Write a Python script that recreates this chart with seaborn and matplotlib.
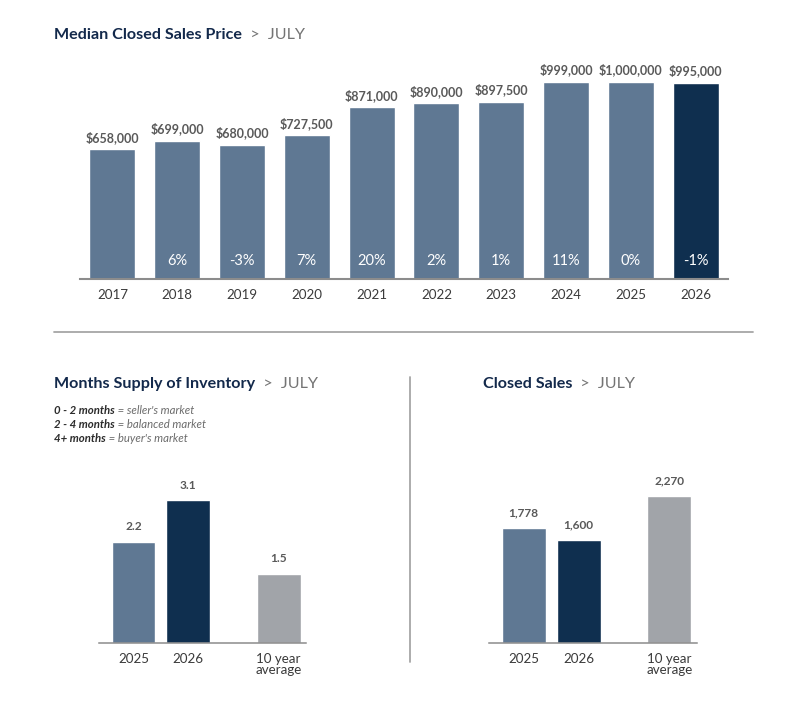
import matplotlib

matplotlib.use("Agg")
import matplotlib.pyplot as plt
import seaborn as sns

# --- data ---
years = ["2017", "2018", "2019", "2020", "2021", "2022", "2023", "2024", "2025", "2026"]
median_price = [658000, 699000, 680000, 727500, 871000, 890000, 897500, 999000, 1000000, 995000]
yoy_change = ["", "6%", "-3%", "7%", "20%", "2%", "1%", "11%", "0%", "-1%"]

compare_labels = ["2025", "2026", "10 year\naverage"]
months_supply = [2.2, 3.1, 1.5]
closed_sales = [1778, 1600, 2270]

SLATE = "#5f7893"
NAVY = "#0f2f4f"
GREY = "#a1a4a9"
TITLE_C = "#13294b"
VALUE_C = "#595959"
TICK_C = "#3a3a3a"
LINE_C = "#a6a6a6"

sns.set_theme(style="white")
plt.rcParams["font.family"] = ["Lato", "DejaVu Sans"]

fig = plt.figure(figsize=(8.05, 7.17), dpi=100)
W, H = 805, 717


def px_axes(x0, x1, y_base, y_top):
    return fig.add_axes([x0 / W, 1 - y_base / H, (x1 - x0) / W, (y_base - y_top) / H])


def title(x, y, main, sub="JULY"):
    t = fig.text(x / W, 1 - y / H, main, fontsize=11.6, fontweight="bold",
                 color=TITLE_C, va="center")
    plt.annotate("  >  " + sub, xy=(1, 0.5), xycoords=t, va="center",
                 fontsize=11.6, color="#747474", annotation_clip=False)


def style_axis(ax, lw):
    sns.despine(ax=ax, left=True, top=True, right=True)
    ax.spines["bottom"].set_color("#8c8c8c")
    ax.spines["bottom"].set_linewidth(lw)
    ax.set_yticks([])
    ax.set_ylabel("")
    ax.set_xlabel("")
    ax.tick_params(axis="x", length=0, pad=7, labelsize=9.6, labelcolor=TICK_C)
    ax.patch.set_alpha(0)


# --- top: median closed sales price ---
ax_top = px_axes(80, 728, 279, 62)
sns.barplot(x=years, y=median_price, hue=years, dodge=False, legend=False,
            palette=[SLATE] * 9 + [NAVY], width=0.71, saturation=1, ax=ax_top)
ax_top.set_ylim(0, 1_100_000)
style_axis(ax_top, 1.5)
for cont, price, chg in zip(ax_top.containers, median_price, yoy_change):
    ax_top.bar_label(cont, labels=[f"${price:,.0f}"], padding=4, fontsize=9,
                     fontweight="bold", color=VALUE_C)
    bar = cont.patches[0]
    ax_top.annotate(chg, xy=(bar.get_x() + bar.get_width() / 2, 0),
                    xytext=(0, 13), textcoords="offset points", ha="center",
                    va="center", color="white", fontsize=10.5)
title(54, 35, "Median Closed Sales Price")

# separators
fig.add_artist(plt.Line2D([54 / W, 753 / W], [1 - 332 / H] * 2, color=LINE_C, lw=1.3))
fig.add_artist(plt.Line2D([410 / W] * 2, [1 - 377 / H, 1 - 662 / H], color=LINE_C, lw=1.3))


# --- bottom panels ---
slots = [0, 1, 2.65]


def compare_panel(ax, values, fmt, ymax):
    sns.barplot(x=slots, y=values, hue=compare_labels, dodge=False, legend=False,
                native_scale=True, palette=[SLATE, NAVY, GREY], width=0.8,
                saturation=1, ax=ax)
    ax.set_xlim(-0.63, 3.15)
    ax.set_ylim(0, ymax)
    style_axis(ax, 1.1)
    ax.set_xticks(slots, compare_labels, linespacing=0.95)
    for cont, v in zip(ax.containers, values):
        ax.bar_label(cont, labels=[fmt(v)], padding=7, fontsize=8.6,
                     fontweight="bold", color=VALUE_C)


ax_msi = px_axes(99, 306, 643, 459)
compare_panel(ax_msi, months_supply, lambda v: f"{v:.1f}", 4.0)
title(54, 384, "Months Supply of Inventory")

legend_rows = [("0 - 2 months", " = seller's market"),
               ("2 - 4 months", " = balanced market"),
               ("4+ months", " = buyer's market")]
for i, (lead, rest) in enumerate(legend_rows):
    t = fig.text(54 / W, 1 - (410 + 14 * i) / H, lead, fontsize=8.2,
                 fontweight="bold", fontstyle="italic", color="#2b2b2b", va="center")
    plt.annotate(rest, xy=(1, 0.5), xycoords=t, va="center", fontsize=8.2,
                 fontstyle="italic", color="#6b6b6b", annotation_clip=False)

ax_cs = px_axes(489, 697, 643, 462)
compare_panel(ax_cs, closed_sales, lambda v: f"{v:,.0f}", 2800)
title(483, 384, "Closed Sales")

fig.savefig("out.png", dpi=100)
